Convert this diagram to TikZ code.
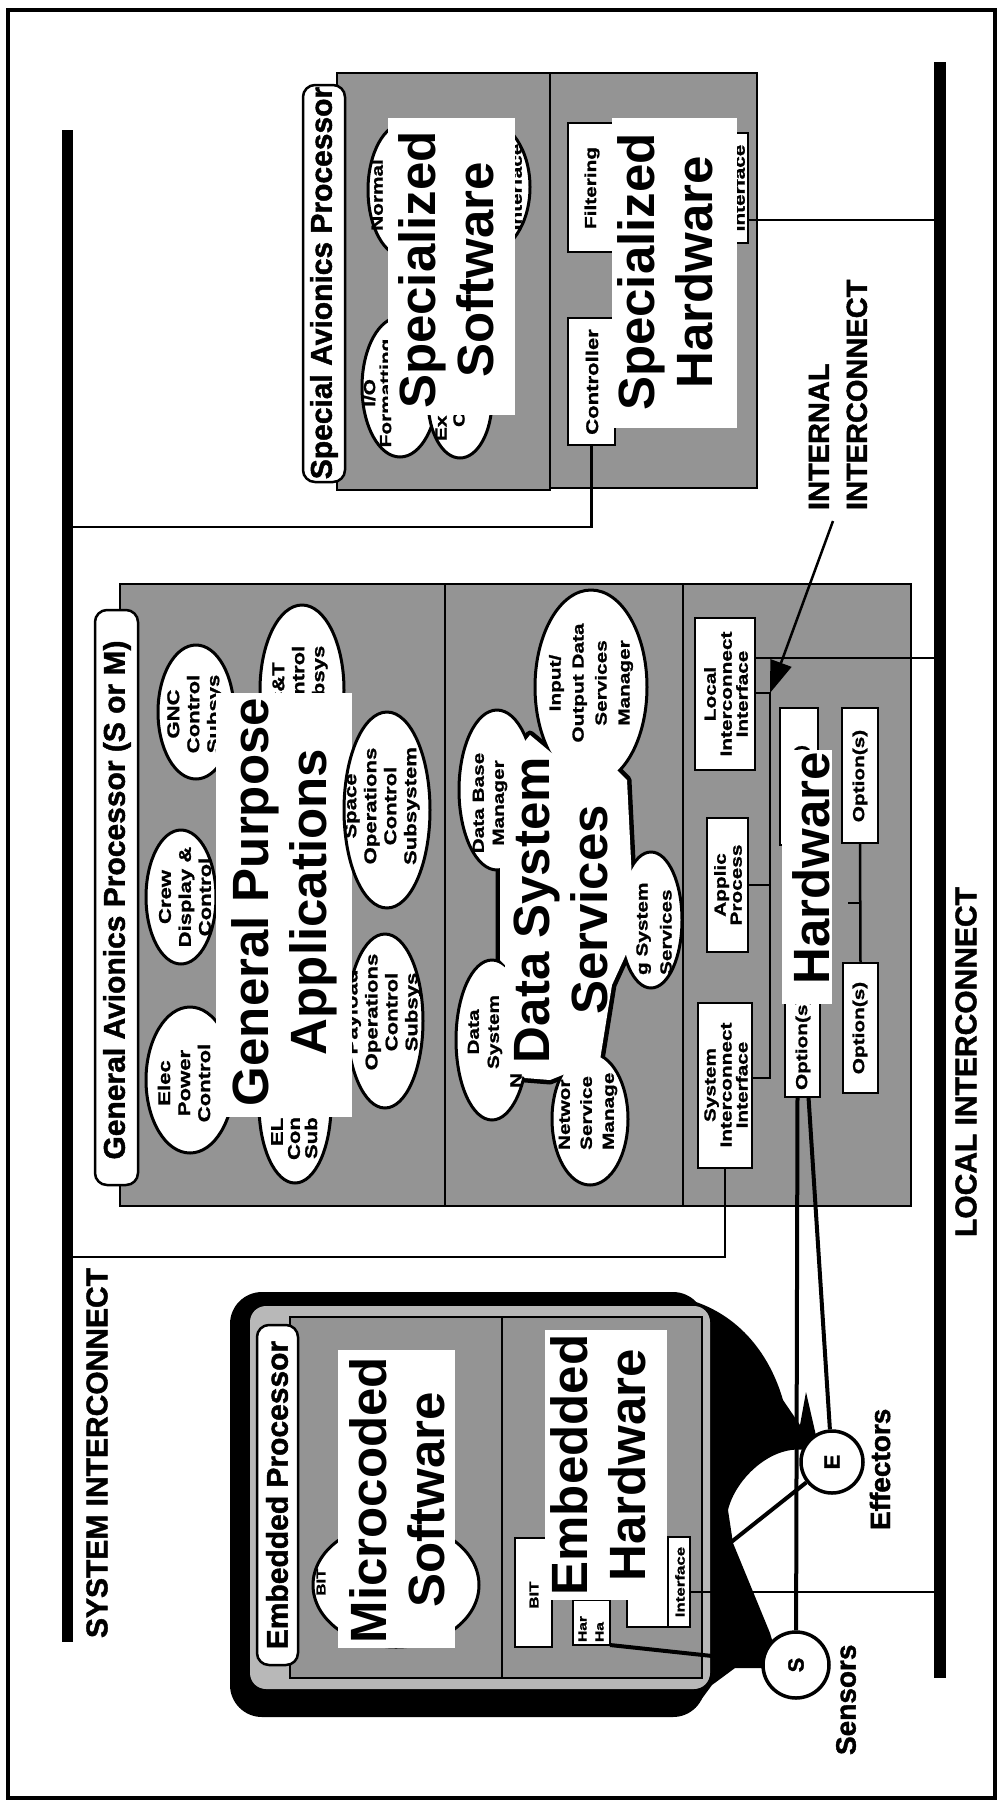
\documentclass[tikz,border=0pt]{standalone}
\usepackage{fontspec}
\setmainfont{Liberation Sans}
\newfontfamily\midfont[FakeBold=1.5]{Liberation Sans Bold}
\newfontfamily\labfont[FakeStretch=1.3,FakeBold=1.2]{Liberation Sans Bold}
\usetikzlibrary{arrows.meta,calc,fit,shapes.geometric}
\newcommand{\fbig}{\fontsize{51}{58}\selectfont\bfseries}
\newcommand{\fmid}{\midfont\fontsize{30}{34}\selectfont}
\newcommand{\fsm}[2]{\labfont\fontsize{#1}{#2}\selectfont}
\begin{document}
\begin{tikzpicture}[x=1pt,y=-1pt,
  area/.style={inner sep=0pt, outer sep=0pt},
  panel/.style={area, draw, line width=2.5pt, fill=black!42},
  tag/.style={area, draw, line width=2.5pt, fill=white, rounded corners=12pt},
  sbox/.style={area, draw, line width=2.5pt, fill=white},
  blank/.style={area, fill=white},
  oval/.style={ellipse, draw, line width=3pt, fill=white, inner sep=0pt, outer sep=0pt},
  bar/.style={area, fill=black},
  rtxt/.style={rotate=90, inner sep=0pt, outer sep=0pt, align=center},
  big/.style={rtxt, font=\fbig},
  mid/.style={rtxt, font=\fmid},
  wire/.style={line width=2.5pt},
  heavy/.style={line width=4pt},
]
\useasboundingbox (0,0) rectangle (998,1805);
\node[area, draw, line width=4pt, fit={(8,10) (995,1798)}] (frame) {};

% interconnect buses
\node[bar, fit={(62,130) (73,1642)}] (sbus) {};
\node[bar, fit={(934,62) (946,1678)}] (lbus) {};
\node[mid, anchor=west] (sbuslabel) at (97,1638) {SYSTEM INTERCONNECT};
\node[mid, anchor=west] (lbuslabel) at (966,1237) {LOCAL INTERCONNECT};
\node[rtxt, align=left, anchor=west, font=\midfont\fontsize{29}{38}\selectfont] (intlabel) at (838,510) {INTERNAL\\INTERCONNECT};

% ---------------- special avionics processor
\node[panel, fit={(337,73) (550,490)}] (spsw) {};
\node[panel, fit={(550,73) (757,488)}] (sphw) {};
\node[oval, minimum width=74pt, minimum height=134pt] (normal) at (405,190) {};
\node[oval, minimum width=90pt, minimum height=134pt] (spint) at (485,187) {};
\node[oval, minimum width=76pt, minimum height=140pt] (iofmt) at (400,387) {};
\node[oval, minimum width=64pt, minimum height=116pt] (exec) at (460,400) {};
\node[rtxt, font={\fsm{16}{17}}] (normalt) at (377,195) {Normal};
\node[rtxt, font={\fsm{16}{16}}] (iofmtt) at (379,393) {I/O\\Formatting};
\node[rtxt, font={\fsm{16}{17}}, anchor=west] (exect1) at (441,441) {Ex};
\node[rtxt, font={\fsm{16}{17}}, anchor=west] (exect2) at (459,427) {C};
\node[rtxt, font={\fsm{16}{17}}] (spintt) at (516,187) {Interface};
\node[blank, fit={(388,118) (515,415)}] (spswcard) {};
\node[big] (spswt) at (446,270) {Specialized\\Software};

\node[sbox, fit={(568,123) (615,252)}] (filt) {};
\node[sbox, fit={(568,318) (615,445)}] (ctrl) {};
\node[sbox, fit={(722,133) (748,243)}] (spif) {};
\node[rtxt, font={\fsm{16}{17}}] (filtt) at (592,188) {Filtering};
\node[rtxt, font={\fsm{17}{18}}] (ctrlt) at (592,382) {Controller};
\node[rtxt, font={\fsm{16}{17}}] (spift) at (739,188) {Interface};
\node[blank, fit={(612,118) (737,428)}] (sphwcard) {};
\node[big] (sphwt) at (665,272) {Specialized\\Hardware};
\node[tag, fit={(303,85) (345,482)}] (sptag) {};
\node[mid] (sptagt) at (324,283) {Special Avionics Processor};

% ---------------- general avionics processor
\node[panel, fit={(120,584) (445,1206)}] (gapapp) {};
\node[panel, fit={(445,584) (683,1206)}] (gapds) {};
\node[panel, fit={(683,584) (911,1206)}] (gaphw) {};

% applications
\node[oval, minimum width=76pt, minimum height=134pt] (gnc) at (196,712) {};
\node[oval, minimum width=70pt, minimum height=134pt] (crew) at (181,897) {};
\node[oval, minimum width=88pt, minimum height=146pt] (elec) at (190,1080) {};
\node[oval, minimum width=84pt, minimum height=170pt] (ct) at (302,690) {};
\node[oval, minimum width=72pt, minimum height=156pt] (elss) at (295,1105) {};
\node[oval, minimum width=76pt, minimum height=174pt] (payload) at (385,1021) {};
\node[rtxt, font={\fsm{17}{20}}] (gnct) at (195,714) {GNC\\Control\\Subsys};
\node[rtxt, font={\fsm{17}{20}}] (crewt) at (185,897) {Crew\\Display \&\\Control};
\node[rtxt, font={\fsm{17}{20}}] (elect) at (184,1083) {Elec\\Power\\Control};
\node[rtxt, font={\fsm{17}{20}}] (ctt) at (300,685) {C\&T\\Control\\Subsys};
\node[rtxt, font={\fsm{17}{20}}] (payloadt) at (383,1012) {Payload\\Operations\\Control\\Subsys};
\node[blank, fit={(216,693) (352,1117)}] (gapcard) {};
\node[big] (gapt) at (284,902) {General Purpose\\Applications};
\node[oval, minimum width=86pt, minimum height=196pt] (spaceops) at (387,810) {};
\node[rtxt, font={\fsm{17}{20}}] (spaceopst) at (382,806) {Space\\Operations\\Control\\Subsystem};
\node[rtxt, font={\fsm{17}{20}}, anchor=west] (elsst1) at (277,1146) {EL};
\node[rtxt, font={\fsm{17}{20}}, anchor=west] (elsst2) at (294,1160) {Con};
\node[rtxt, font={\fsm{17}{20}}, anchor=west] (elsst3) at (311,1159) {Sub};
\node[tag, fit={(95,610) (138,1185)}] (gaptag) {};
\node[mid] (gaptagt) at (117,900) {General Avionics Processor (S or M)};

% data system services cloud
\draw[line width=9pt, line join=round] (510,760) -- (530,735) -- (560,760) -- (615,768) -- (627,780) -- (632,880) -- (628,950) -- (612,985) -- (600,1060) -- (550,1080) -- (525,1078) -- (505,1060) -- (505,965) -- (500,960) -- (500,865) -- (503,865) -- cycle;
\node[oval, minimum width=76pt, minimum height=160pt] (dbm) at (497,790) {};
\node[oval, minimum width=72pt, minimum height=160pt] (dsn) at (492,1040) {};
\node[oval, minimum width=112pt, minimum height=194pt] (iom) at (591,687) {};
\node[oval, minimum width=76pt, minimum height=132pt] (nsm) at (590,1119) {};
\node[oval, minimum width=62pt, minimum height=136pt] (gss) at (651,920) {};
\fill[white] (510,760) -- (530,735) -- (560,760) -- (615,768) -- (627,780) -- (632,880) -- (628,950) -- (612,985) -- (600,1060) -- (550,1080) -- (525,1078) -- (505,1060) -- (505,965) -- (500,960) -- (500,865) -- (503,865) -- cycle;
\node[big] (dsst) at (561,910) {Data System\\Services};
\node[rtxt, font={\fsm{16}{20}}] (dbmt) at (490,803) {Data Base\\Manager};
\node[rtxt, font={\fsm{16}{23}}] (iomt) at (591,683) {Input/\\Output Data\\Services\\Manager};
\node[rtxt, font={\fsm{16}{20}}] (dsnt) at (485,1032) {Data\\System};
\node[rtxt, font={\fsm{16}{20}}, anchor=west] (dsnt2) at (516,1088) {N};
\node[rtxt, font={\fsm{16}{22}}, align=left, anchor=west] (nsmt) at (588,1150) {Networ\\Service\\Manage};
\node[rtxt, font={\fsm{16}{24}}, align=left, anchor=west] (gsst) at (654,975) {g System\\Services};

% hardware
\node[sbox, fit={(695,618) (755,770)}] (lii) {};
\node[rtxt, font={\fsm{16}{16}}] (liit) at (726,694) {Local\\Interconnect\\Interface};
\node[sbox, fit={(707,818) (748,952)}] (applic) {};
\node[rtxt, font={\fsm{16}{16}}] (applict) at (728,885) {Applic\\Process};
\node[sbox, fit={(698,1003) (752,1168)}] (sii) {};
\node[rtxt, font={\fsm{16}{16}}] (siit) at (726,1085) {System\\Interconnect\\Interface};
\node[sbox, fit={(780,708) (818,845)}] (opt1) {};
\node[rtxt, font={\fsm{16}{17}}, anchor=east] (opt1t) at (802,745) {Option(s)};
\node[sbox, fit={(785,998) (820,1097)}] (opt2) {};
\node[rtxt, font={\fsm{16}{17}}, anchor=west] (opt2t) at (803,1090) {Option(s)};
\node[blank, fit={(782,750) (832,1004)}] (hwcard) {};
\node[big] (hwt) at (811,868) {Hardware};
\node[sbox, fit={(842,708) (878,843)}] (opt3) {};
\node[rtxt, font={\fsm{16}{17}}] (opt3t) at (860,776) {Option(s)};
\node[sbox, fit={(843,963) (878,1093)}] (opt4) {};
\node[rtxt, font={\fsm{16}{17}}] (opt4t) at (860,1028) {Option(s)};
\draw[wire] (opt3.south) -- (opt4.north);
\coordinate (optjoin) at (848,903);
\draw[wire] (optjoin) -- (optjoin -| opt3.south);
\coordinate (ibtop) at (770,693);
\coordinate (ibbot) at (770,1078);
\draw[wire] (lii.east |- ibtop) -- (ibtop) -- (ibbot) -- (sii.east |- ibbot);
\draw[wire] (applic.east) -- (applic.east -| ibtop);

% ---------------- embedded processor
\node[area, fill=black, rounded corners=32pt, fit={(230,1292) (705,1717)}] (emblob) {};
\fill[black] (690,1300) .. controls (740,1315) and (770,1355) .. (783,1400) -- (800,1425) -- (806,1392) -- (820,1453) -- (805,1450) .. controls (770,1445) and (735,1480) .. (728,1510) -- (733,1543) -- (770,1633) -- (775,1650) -- (765,1668) -- (735,1668) -- (712,1685) -- (695,1708) -- (670,1716) -- (670,1300) -- cycle;
\node[area, fill=black!28, rounded corners=16pt, fit={(250,1306) (710,1689)}] (emband) {};
\node[panel, fit={(290,1317) (502,1678)}] (emsw) {};
\node[panel, fit={(502,1317) (702,1678)}] (emhw) {};
\node[oval, minimum width=166pt, minimum height=124pt] (bit) at (396,1585) {};
\node[rtxt, font={\fsm{13}{14}}] (bitt) at (321,1582) {BIT};
\node[blank, fit={(338,1350) (455,1648)}] (swcard) {};
\node[big] (swt) at (397,1500) {Microcoded\\Software};
\node[sbox, fit={(515,1538) (552,1647)}] (embit) {};
\node[rtxt, font={\fsm{13}{14}}] (embitt) at (534,1595) {BIT};
\node[sbox, fit={(573,1600) (610,1645)}] (hax) {};
\node[rtxt, font={\fsm{12}{17}}, align=left, anchor=west] (haxt) at (591,1642) {Har\\Ha};
\node[sbox, fit={(627,1537) (668,1627)}] (cbox) {};
\node[sbox, fit={(668,1537) (690,1627)}] (emif) {};
\node[rtxt, font={\fsm{13}{14}}] (emift) at (680,1582) {Interface};
\node[blank, fit={(545,1330) (667,1600)}] (hwcard2) {};
\node[big] (emhwt) at (598,1465) {Embedded\\Hardware};
\node[tag, fit={(257,1325) (298,1665)}] (emtag) {};
\node[mid] (emtagt) at (277,1495) {Embedded Processor};

% ---------------- connections
\coordinate (ctrlbend) at (590,527);
\draw[wire] (ctrl.south) -- (ctrl.south |- ctrlbend) -- (ctrlbend -| sbus.east);
\coordinate (siibend) at (727,1257);
\draw[wire] (sii.south) -- (sii.south |- siibend) -- (siibend -| sbus.east);
\coordinate (spifport) at (748,220);
\draw[wire] (spif.east |- spifport) -- (spifport -| lbus.west);
\coordinate (liiport) at (755,658);
\draw[wire] (lii.east |- liiport) -- (liiport -| lbus.west);
\coordinate (emifport) at (690,1592);
\draw[wire] (emif.east |- emifport) -- (emifport -| lbus.west);

\node[circle, draw, line width=3.5pt, fill=white, minimum size=62pt, inner sep=0pt, rotate=90, font=\midfont\fontsize{22}{22}\selectfont] (eff) at (832,1462) {E};
\node[circle, draw, line width=3.5pt, fill=white, minimum size=66pt, inner sep=0pt, rotate=90, font=\midfont\fontsize{22}{22}\selectfont] (sen) at (796,1665) {S};
\draw[heavy] ([xshift=-5pt]opt2.south) -- (sen);
\draw[heavy] ([xshift=6pt]opt2.south) -- (eff);
\draw[heavy] (sen) -- (hax.south east);
\coordinate (pocket) at (730,1543);
\draw[heavy] (eff) -- (pocket);
\node[rtxt, font=\midfont\fontsize{28}{30}\selectfont, anchor=west] (efft) at (880,1530) {Effectors};
\node[rtxt, font=\midfont\fontsize{28}{30}\selectfont, anchor=west] (sent) at (846,1755) {Sensors};

\coordinate (arrtail) at (833,521);
\draw[wire, -{Triangle[length=32pt,width=22pt]}] (arrtail) -- (ibtop);
\end{tikzpicture}
\end{document}
